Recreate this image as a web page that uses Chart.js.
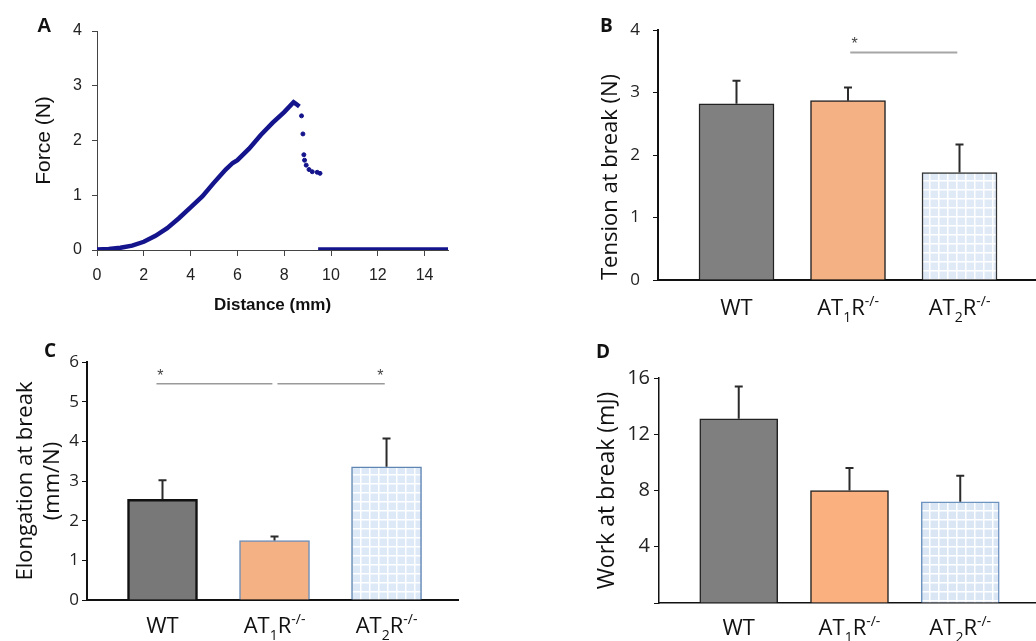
<!DOCTYPE html>
<html>
<head>
<meta charset="utf-8">
<script src="https://cdn.jsdelivr.net/npm/chart.js@4.4.1/dist/chart.umd.min.js"></script>
<style>
  html, body { margin: 0; padding: 0; background: #fff; }
  #fig { position: relative; width: 1036px; height: 641px; overflow: hidden; }
  .panel { position: absolute; }
  .tag { position: absolute; line-height: 1; color: #111; }
</style>
</head>
<body>
<div id="fig">
  <div class="panel" style="left:0;top:0;width:470px;height:320px"><canvas id="chartA"></canvas></div>
  <div class="panel" style="left:560px;top:0;width:476px;height:330px"><canvas id="chartB"></canvas></div>
  <div class="panel" style="left:0;top:330px;width:480px;height:311px"><canvas id="chartC"></canvas></div>
  <div class="panel" style="left:560px;top:330px;width:476px;height:311px"><canvas id="chartD"></canvas></div>
  <div class="tag" style="left:37px;top:14px;font:bold 20px 'Liberation Sans'">A</div>
  <div class="tag" style="left:600px;top:12px;font:bold 19px 'Open Sans'">B</div>
  <div class="tag" style="left:44px;top:337px;font:bold 19px 'Open Sans'">C</div>
  <div class="tag" style="left:596px;top:338px;font:bold 19px 'Open Sans'">D</div>
</div>
<script>
// panel A: force / distance trace
const riseDistance = [0, 0.5, 1, 1.5, 2, 2.5, 3, 3.5, 4, 4.5, 5, 5.5, 5.8, 6, 6.5, 7, 7.5, 8, 8.4, 8.5, 8.65];
const riseForce = [0.01, 0.02, 0.04, 0.08, 0.15, 0.26, 0.40, 0.58, 0.78, 0.98, 1.23, 1.47, 1.59, 1.64, 1.85, 2.10, 2.32, 2.52, 2.70, 2.67, 2.62];
const breakDistance = [8.74, 8.80, 8.84, 8.87, 8.94, 9.06, 9.20, 9.41, 9.53];
const breakForce = [2.45, 2.12, 1.74, 1.64, 1.55, 1.47, 1.43, 1.42, 1.40];
const tailDistance = [9.45, 10, 11, 12, 13, 14, 15];
const tailForce = [0.02, 0.02, 0.02, 0.02, 0.02, 0.02, 0.02];
const distanceTicks = [0, 2, 4, 6, 8, 10, 12, 14];
const forceTicks = [0, 1, 2, 3, 4];

// panels B-D: group means and error (upper bar only)
const categories = ['WT', 'AT1R-/-', 'AT2R-/-'];
const tensionMean = [2.82, 2.87, 1.72];
const tensionErr = [0.37, 0.21, 0.45];
const tensionTicks = [0, 1, 2, 3, 4];
const elongationMean = [2.54, 1.50, 3.36];
const elongationErr = [0.48, 0.10, 0.71];
const elongationTicks = [0, 1, 2, 3, 4, 5, 6];
const workMean = [13.1, 8.0, 7.2];
const workErr = [2.3, 1.6, 1.85];
const workTicks = [0, 4, 8, 12, 16];

Chart.defaults.font.family = "'Open Sans'";
Chart.defaults.color = '#111';
Chart.defaults.animation = false;

const pts = (xs, ys) => xs.map((v, i) => ({ x: v, y: ys[i] }));
const useTicks = list => s => { s.ticks = list.map(v => ({ value: v })); };

// light blue grid fill for the AT2 bars
function gridPattern(bg) {
  const c = document.createElement('canvas');
  c.width = 9; c.height = 9;
  const g = c.getContext('2d');
  g.fillStyle = bg;
  g.fillRect(0, 0, 9, 9);
  g.fillStyle = '#ffffff';
  g.fillRect(0, 0, 9, 1.5);
  g.fillRect(0, 0, 1.5, 9);
  return g.createPattern(c, 'repeat');
}

const errorBars = {
  id: 'errorBars',
  afterDatasetsDraw(chart, args, opts) {
    const { ctx, scales: { y } } = chart;
    const meta = chart.getDatasetMeta(0);
    const vals = chart.data.datasets[0].data;
    ctx.save();
    ctx.strokeStyle = opts.color;
    ctx.lineWidth = opts.width;
    meta.data.forEach((bar, i) => {
      const top = y.getPixelForValue(vals[i].y + opts.values[i]);
      ctx.beginPath();
      ctx.moveTo(bar.x, bar.y);
      ctx.lineTo(bar.x, top);
      ctx.moveTo(bar.x - opts.cap / 2, top);
      ctx.lineTo(bar.x + opts.cap / 2, top);
      ctx.stroke();
    });
    ctx.restore();
  }
};

const sigMarks = {
  id: 'sigMarks',
  afterDraw(chart, args, opts) {
    const { ctx, scales: { x, y } } = chart;
    ctx.save();
    opts.lines.forEach(l => {
      const py = y.getPixelForValue(l.y);
      ctx.strokeStyle = opts.color;
      ctx.lineWidth = opts.width;
      ctx.beginPath();
      ctx.moveTo(x.getPixelForValue(l.from), py);
      ctx.lineTo(x.getPixelForValue(l.to), py);
      ctx.stroke();
      ctx.fillStyle = '#444';
      ctx.font = "16px 'Liberation Sans'";
      ctx.textAlign = 'center';
      ctx.textBaseline = 'alphabetic';
      ctx.fillText('*', x.getPixelForValue(l.star), py - opts.gap);
    });
    ctx.restore();
  }
};

// category names with subscript digit and superscript -/-
const richLabels = {
  id: 'richLabels',
  afterDraw(chart, args, opts) {
    const { ctx, scales: { x } } = chart;
    const fs = opts.size;
    const small = Math.round(fs * 0.62);
    ctx.save();
    ctx.fillStyle = '#111';
    ctx.textAlign = 'left';
    ctx.textBaseline = 'alphabetic';
    categories.forEach((name, i) => {
      const m = name.match(/^(AT)(\d)(R)(.*)$/);
      const parts = m ? [[m[1], 0], [m[2], 1], [m[3], 0], [m[4], -1]] : [[name, 0]];
      let w = 0;
      parts.forEach(p => {
        ctx.font = (p[1] ? small : fs) + "px 'Open Sans'";
        p[2] = ctx.measureText(p[0]).width;
        w += p[2];
      });
      let px = x.getPixelForValue(i) - w / 2;
      const base = x.top + opts.gap;
      parts.forEach(p => {
        ctx.font = (p[1] ? small : fs) + "px 'Open Sans'";
        const dy = p[1] === 1 ? fs * 0.3 : p[1] === -1 ? -fs * 0.42 : 0;
        ctx.fillText(p[0], px, base + dy);
        px += p[2];
      });
    });
    ctx.restore();
  }
};

// ---- A ----
new Chart(document.getElementById('chartA'), {
  type: 'scatter',
  data: {
    datasets: [
      { data: pts(riseDistance, riseForce), showLine: true, borderColor: '#14148c', borderWidth: 4.5, pointRadius: 0 },
      { data: pts(breakDistance, breakForce), showLine: false, backgroundColor: '#14148c', borderColor: '#14148c', pointRadius: 2 },
      { data: pts(tailDistance, tailForce), showLine: true, borderColor: '#14148c', borderWidth: 3.5, pointRadius: 0 }
    ]
  },
  options: {
    responsive: true,
    maintainAspectRatio: false,
    layout: { padding: { top: 31, right: 22, left: 0, bottom: 0 } },
    plugins: { legend: { display: false }, tooltip: { enabled: false } },
    scales: {
      x: {
        type: 'linear', min: 0, max: 15,
        afterBuildTicks: useTicks(distanceTicks),
        afterFit: s => { s.height = 70; },
        border: { color: '#444', width: 1 },
        grid: { drawOnChartArea: false, tickLength: 6, color: '#444' },
        ticks: { padding: 10, font: { family: "'Liberation Sans'", size: 16 }, color: '#222', maxRotation: 0 },
        title: { display: true, text: 'Distance (mm)', font: { family: "'Liberation Sans'", size: 17, weight: 'bold' }, padding: { bottom: 4, top: 0 } }
      },
      y: {
        min: 0, max: 4,
        afterBuildTicks: useTicks(forceTicks),
        afterFit: s => { s.width = 97; },
        border: { color: '#444', width: 1 },
        grid: { drawOnChartArea: false, tickLength: 5, color: '#444' },
        ticks: { padding: 10, font: { family: "'Liberation Sans'", size: 16 }, color: '#222' },
        title: { display: true, text: 'Force (N)', font: { family: "'Liberation Sans'", size: 21 }, padding: { top: 32 } }
      }
    }
  }
});

// ---- bar panels ----
function barPanel(id, p) {
  return new Chart(document.getElementById(id), {
    type: 'bar',
    data: {
      datasets: [{
        data: pts([0, 1, 2], p.values),
        backgroundColor: p.fills,
        borderColor: p.borders,
        borderWidth: p.borderWidth,
        barThickness: p.barThickness
      }]
    },
    plugins: [errorBars, richLabels].concat(p.sig ? [sigMarks] : []),
    options: {
      responsive: true,
      maintainAspectRatio: false,
      layout: { padding: { top: p.top, right: p.right, left: 0, bottom: 0 } },
      plugins: {
        legend: { display: false },
        tooltip: { enabled: false },
        errorBars: { values: p.errors, color: '#2b2b2b', width: 2, cap: 8 },
        richLabels: { size: 22, gap: p.labelGap },
        sigMarks: p.sig || {}
      },
      scales: {
        x: {
          type: 'linear', min: p.xMin, max: p.xMax, offset: false,
          afterFit: s => { s.height = p.xHeight; },
          border: { color: '#111', width: p.axisWidth },
          grid: { display: false, offset: false },
          ticks: { display: false }
        },
        y: {
          min: p.yMin, max: p.yMax,
          afterBuildTicks: useTicks(p.ticks),
          afterFit: s => { s.width = p.yWidth; },
          border: { color: '#111', width: p.axisWidth },
          grid: { drawOnChartArea: false, tickLength: 5, color: '#111' },
          ticks: { padding: p.tickPad, font: { size: p.tickSize }, color: '#222', callback: p.tickFmt },
          title: { display: true, text: p.title, align: p.titleAlign, font: { size: p.titleSize, lineHeight: 1.22 }, padding: { top: p.titlePad, bottom: 0 } }
        }
      }
    }
  });
}

barPanel('chartB', {
  values: tensionMean, errors: tensionErr, ticks: tensionTicks,
  fills: ['#808080', '#f4b183', gridPattern('#dfeaf6')],
  borders: ['#222', '#222', '#333'], borderWidth: 1.5, barThickness: 75,
  top: 30, right: 0, xHeight: 50, yWidth: 98, xMin: -0.704, xMax: 2.686,
  yMin: 0, yMax: 4, axisWidth: 2, tickPad: 13, tickSize: 17,
  title: 'Tension at break (N)', titleAlign: 'start', titleSize: 22, titlePad: 37,
  labelGap: 35,
  sig: { color: '#a6a6a6', width: 2, gap: 4, lines: [{ from: 1.02, to: 1.98, y: 3.64, star: 1.06 }] }
});

barPanel('chartC', {
  values: elongationMean, errors: elongationErr, ticks: elongationTicks,
  fills: ['#787878', '#f4b183', gridPattern('#dde9f6')],
  borders: ['#111', '#6d8fb8', '#5f86b3'], borderWidth: [2.5, 1.5, 1.5], barThickness: 70,
  top: 32, right: 22, xHeight: 41, yWidth: 87, xMin: -0.674, xMax: 2.638,
  yMin: 0, yMax: 6, axisWidth: 2, tickPad: 3, tickSize: 17,
  title: ['Elongation at break', '(mm/N)'], titleAlign: 'center', titleSize: 22, titlePad: 12,
  labelGap: 33,
  sig: { color: '#9a9a9a', width: 1.5, gap: 3, lines: [
    { from: -0.054, to: 0.981, y: 5.45, star: -0.02 },
    { from: 1.026, to: 1.984, y: 5.45, star: 1.945 }
  ] }
});

barPanel('chartD', {
  values: workMean, errors: workErr, ticks: workTicks,
  fills: ['#7f7f7f', '#fbb17f', gridPattern('#dae6f4')],
  borders: ['#222', '#222', '#6d93c1'], borderWidth: 1.5, barThickness: 78,
  top: 48, right: 0, xHeight: 38, yWidth: 99, xMin: -0.72, xMax: 2.684,
  yMin: 0, yMax: 16, axisWidth: 1.5, tickPad: 4, tickSize: 20,
  tickFmt: v => (v === 0 ? '' : v),
  title: 'Work at break (mJ)', titleAlign: 'center', titleSize: 23, titlePad: 33,
  labelGap: 32
});
</script>
</body>
</html>
